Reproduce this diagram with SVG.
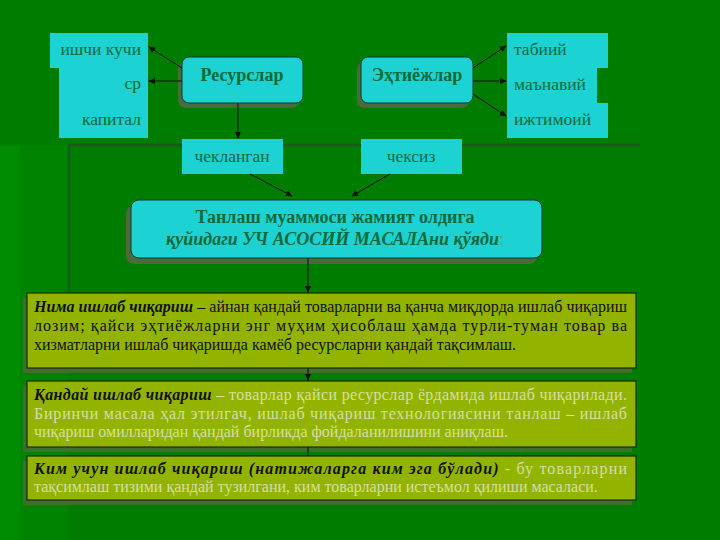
<svg xmlns="http://www.w3.org/2000/svg" width="720" height="540" viewBox="0 0 720 540">
<defs>
<marker id="ah" viewBox="0 0 8 8" refX="7" refY="4" markerWidth="7" markerHeight="7" markerUnits="userSpaceOnUse" orient="auto">
<path d="M0,0.5 L8,4 L0,7.5 Z" fill="#0a120a"/>
</marker>
<style>
.cy{fill:#1cd2d2;}
.cyb{fill:#1cd2d2;stroke:#0b3d2a;stroke-width:1;}
.sh{fill:#4a6a3c;}
.osh{fill:#3f6f2c;}
.ol{fill:#92b400;stroke:#1a2a10;stroke-width:1.2;}
.nt{font-family:"Liberation Serif","Times New Roman",serif;font-size:17.5px;fill:#0f6a3c;}
.nb{font-family:"Liberation Serif","Times New Roman",serif;font-size:18px;font-weight:bold;fill:#0f6a3c;}
.bt{font-family:"Liberation Serif","Times New Roman",serif;font-size:16px;fill:#111;}
.bi{font-weight:bold;font-style:italic;fill:#111;}
.lt{fill:#d6dea4;}
.cn{stroke:#0a120a;stroke-width:1;fill:none;}
</style>
</defs>
<rect width="720" height="540" fill="#007c00"/>
<rect x="0" y="145" width="68" height="395" fill="#008300"/>
<rect x="0" y="145" width="20" height="395" fill="#008c00"/>
<line x1="69" y1="146" x2="69" y2="292" stroke="#0a6410" stroke-width="3"/>
<line x1="68" y1="145" x2="640" y2="145" stroke="#1c5a1c" stroke-width="3"/>

<g id="resource-list">
<path class="cy" d="M50,33 H148 V138 H59 V68 H50 Z"/>
<text class="nt" x="141" y="55" text-anchor="end">ишчи кучи</text>
<text class="nt" x="141" y="89" text-anchor="end">ср</text>
<text class="nt" x="141" y="125" text-anchor="end">капитал</text>
</g>
<g id="resources">
<rect class="sh" x="178" y="62" width="121" height="46" rx="7"/>
<rect class="cyb" x="182" y="57" width="121" height="46" rx="7"/>
<text class="nb" x="242" y="81" text-anchor="middle">Ресурслар</text>
</g>
<g id="needs">
<rect class="sh" x="357" y="62" width="112" height="46" rx="7"/>
<rect class="cyb" x="361" y="57" width="112" height="46" rx="7"/>
<text class="nb" x="417" y="81" text-anchor="middle">Эҳтиёжлар</text>
</g>
<g id="needs-list">
<path class="cy" d="M507,33 H608 V68 H597 V103 H608 V138 H507 Z"/>
<text class="nt" x="514" y="55">табиий</text>
<text class="nt" x="514" y="90">маънавий</text>
<text class="nt" x="514" y="125">ижтимоий</text>
</g>
<g id="limited">
<rect class="cy" x="182" y="139" width="101" height="35"/>
<text class="nt" x="232" y="162" text-anchor="middle">чекланган</text>
</g>
<g id="unlimited">
<rect class="cy" x="361" y="139" width="101" height="35"/>
<text class="nt" x="411" y="162" text-anchor="middle">чексиз</text>
</g>
<g id="main">
<rect class="sh" x="126" y="206" width="411" height="58" rx="8"/>
<rect class="cyb" x="131" y="200" width="411" height="58" rx="8"/>
<text class="nb" x="335" y="223" text-anchor="middle">Танлаш муаммоси жамият олдига</text>
<text class="nb" x="335" y="245" text-anchor="middle"><tspan font-style="italic">қуйидаги УЧ АСОСИЙ МАСАЛАни қўяди</tspan><tspan font-weight="normal" fill="#6a9a80">:</tspan></text>
</g>
<g id="what">
<rect class="osh" x="23" y="298" width="609" height="75"/>
<rect class="ol" x="27" y="293" width="609" height="75"/>
<text class="bt" x="34" y="312" textLength="593" lengthAdjust="spacing"><tspan class="bi">Нима ишлаб чиқариш</tspan> – айнан қандай товарларни ва қанча миқдорда ишлаб чиқариш</text>
<text class="bt" x="34" y="331" textLength="593" lengthAdjust="spacing">лозим; қайси эҳтиёжларни энг муҳим ҳисоблаш ҳамда турли-туман товар ва</text>
<text class="bt" x="34" y="350">хизматларни ишлаб чиқаришда камёб ресурсларни қандай тақсимлаш.</text>
</g>
<g id="how">
<rect class="osh" x="23" y="386" width="609" height="66"/>
<rect class="ol" x="27" y="381" width="609" height="66"/>
<text class="bt" x="34" y="400" textLength="593" lengthAdjust="spacing"><tspan class="bi">Қандай ишлаб чиқариш</tspan><tspan class="lt"> – товарлар қайси ресурслар ёрдамида ишлаб чиқарилади.</tspan></text>
<text class="bt lt" x="34" y="419" textLength="593" lengthAdjust="spacing">Биринчи масала ҳал этилгач, ишлаб чиқариш технологиясини танлаш – ишлаб</text>
<text class="bt lt" x="34" y="437">чиқариш омилларидан қандай бирликда фойдаланилишини аниқлаш.</text>
</g>
<g id="whom">
<rect class="osh" x="23" y="461" width="609" height="44"/>
<rect class="ol" x="27" y="456" width="609" height="44"/>
<text class="bt" x="34" y="474" textLength="593" lengthAdjust="spacing"><tspan class="bi">Ким учун ишлаб чиқариш (натижаларга ким эга бўлади)</tspan><tspan class="lt"> - бу товарларни</tspan></text>
<text class="bt lt" x="34" y="492">тақсимлаш тизими қандай тузилгани, ким товарларни истеъмол қилиши масаласи.</text>
</g>
<g id="connectors">
<line class="cn" x1="182" y1="68" x2="149" y2="47" marker-end="url(#ah)"/>
<line class="cn" x1="182" y1="81" x2="149" y2="81" marker-end="url(#ah)"/>
<line class="cn" x1="238" y1="103" x2="238" y2="138" marker-end="url(#ah)"/>
<line class="cn" x1="473" y1="68" x2="506" y2="46" marker-end="url(#ah)"/>
<line class="cn" x1="473" y1="81" x2="506" y2="81" marker-end="url(#ah)"/>
<line class="cn" x1="473" y1="94" x2="506" y2="116" marker-end="url(#ah)"/>
<line class="cn" x1="250" y1="174" x2="292" y2="196" marker-end="url(#ah)"/>
<line class="cn" x1="390" y1="174" x2="352" y2="196" marker-end="url(#ah)"/>
<line class="cn" x1="308" y1="258" x2="308" y2="292" marker-end="url(#ah)"/>
<line class="cn" x1="308" y1="368" x2="308" y2="380" marker-end="url(#ah)"/>
<line class="cn" x1="308" y1="447" x2="308" y2="456"/>
</g>
</svg>
